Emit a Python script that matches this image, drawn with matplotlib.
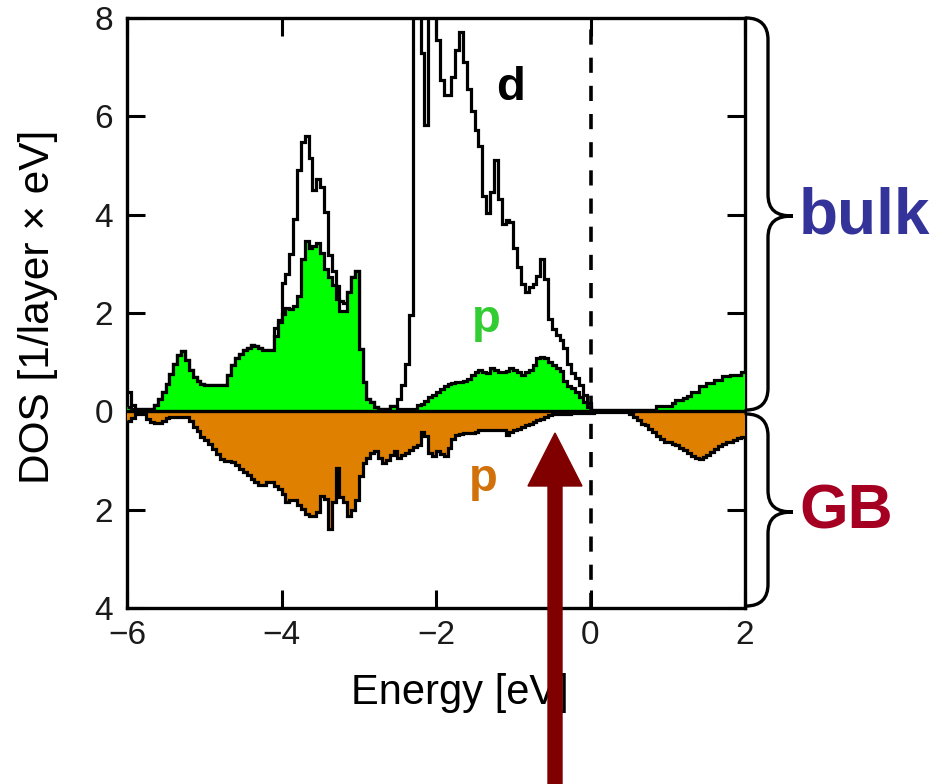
import numpy as np
import matplotlib
matplotlib.use("Agg")
import matplotlib.pyplot as plt
from matplotlib.path import Path
from matplotlib.patches import PathPatch, FancyArrow

plt.rcParams['font.family'] = ['Liberation Sans', 'DejaVu Sans']

# Energy grid (eV): histogram bins of 0.05 eV from -6 to 2
energy_min, energy_max, energy_step = -6.0, 2.0, 0.05
edges = np.linspace(energy_min, energy_max, int(round((energy_max - energy_min) / energy_step)) + 1)

# Bulk d-projected DOS (values above 8 run off the top of the frame)
dos_d_bulk = [
    0.40, 0.12, 0.05, 0.05, 0.05, 0.05, 0.05, 0.12, 0.25, 0.39,
    0.56, 0.76, 0.97, 1.15, 1.22, 1.04, 0.84, 0.70, 0.61, 0.56,
    0.53, 0.53, 0.53, 0.53, 0.53, 0.53, 0.74, 0.94, 1.09, 1.17,
    1.24, 1.28, 1.34, 1.33, 1.28, 1.24, 1.24, 1.24, 1.70, 1.85,
    2.62, 2.80, 3.20, 3.91, 4.90, 5.47, 5.60, 5.16, 4.50, 4.73,
    4.56, 4.05, 3.17, 2.85, 2.55, 2.25, 2.20, 2.42, 2.73, 2.86,
    1.27, 0.59, 0.25, 0.19, 0.09, 0.04, 0.04, 0.04, 0.11, 0.11,
    0.25, 0.53, 0.97, 1.95, 10.0, 10.0, 7.28, 5.83, 10.0, 10.0,
    7.55, 6.74, 6.44, 6.44, 6.81, 7.35, 7.72, 7.11, 6.55, 6.10,
    5.73, 5.39, 4.38, 4.04, 4.46, 5.12, 4.31, 3.81, 3.90, 3.85,
    3.33, 2.93, 2.59, 2.42, 2.52, 2.59, 2.76, 3.10, 2.70, 1.88,
    1.68, 1.55, 1.45, 1.28, 0.97, 0.77, 0.67, 0.53, 0.33, 0.16,
    0.03, 0.03, 0.03, 0.03, 0.03, 0.03, 0.03, 0.03, 0.03, 0.03,
    0.03, 0.03, 0.03, 0.03, 0.03, 0.03, 0.03, 0.03, 0.03, 0.03,
    0.03, 0.03, 0.03, 0.03, 0.03, 0.03, 0.03, 0.03, 0.03, 0.03,
    0.03, 0.03, 0.03, 0.03, 0.03, 0.03, 0.03, 0.03, 0.03, 0.03,
]

# Bulk p-projected DOS
dos_p_bulk = [
    0.08, 0.05, 0.05, 0.05, 0.05, 0.05, 0.05, 0.12, 0.25, 0.39,
    0.56, 0.76, 0.97, 1.15, 1.22, 1.04, 0.84, 0.70, 0.61, 0.56,
    0.53, 0.53, 0.53, 0.53, 0.53, 0.53, 0.74, 0.94, 1.09, 1.17,
    1.24, 1.28, 1.34, 1.33, 1.28, 1.24, 1.24, 1.24, 1.54, 1.81,
    1.98, 2.11, 2.08, 2.15, 2.35, 3.10, 3.47, 3.33, 3.37, 3.42,
    3.23, 2.90, 2.73, 2.56, 2.29, 2.05, 2.05, 2.42, 2.73, 2.86,
    1.27, 0.59, 0.25, 0.19, 0.09, 0.04, 0.04, 0.04, 0.11, 0.11,
    0.04, 0.04, 0.04, 0.04, 0.04, 0.12, 0.15, 0.22, 0.29, 0.33,
    0.40, 0.46, 0.51, 0.55, 0.57, 0.59, 0.59, 0.62, 0.66, 0.73,
    0.80, 0.84, 0.80, 0.78, 0.88, 0.84, 0.80, 0.80, 0.82, 0.89,
    0.84, 0.80, 0.74, 0.80, 0.84, 0.95, 1.08, 1.10, 1.08, 1.00,
    0.94, 0.89, 0.83, 0.62, 0.52, 0.47, 0.40, 0.30, 0.20, 0.08,
    0.03, 0.03, 0.03, 0.03, 0.03, 0.03, 0.03, 0.03, 0.03, 0.03,
    0.03, 0.03, 0.03, 0.03, 0.03, 0.03, 0.03, 0.11, 0.11, 0.11,
    0.11, 0.17, 0.23, 0.23, 0.27, 0.32, 0.40, 0.40, 0.51, 0.51,
    0.57, 0.57, 0.63, 0.63, 0.71, 0.71, 0.73, 0.73, 0.73, 0.79,
]

# Grain-boundary p-projected DOS (plotted downwards)
dos_p_gb = [
    0.19, 0.14, 0.05, 0.05, 0.05, 0.15, 0.22, 0.24, 0.24, 0.19,
    0.14, 0.12, 0.12, 0.12, 0.12, 0.12, 0.19, 0.32, 0.39, 0.53,
    0.59, 0.66, 0.76, 0.86, 0.97, 1.00, 1.00, 1.03, 1.10, 1.17,
    1.24, 1.30, 1.37, 1.44, 1.49, 1.49, 1.44, 1.44, 1.52, 1.57,
    1.68, 1.85, 1.81, 1.81, 1.91, 1.98, 2.08, 2.13, 2.13, 2.05,
    1.72, 1.78, 2.40, 1.85, 1.15, 1.75, 1.85, 2.12, 2.00, 1.80,
    1.32, 1.05, 0.95, 0.85, 0.81, 0.95, 1.05, 0.98, 0.88, 0.80,
    0.95, 0.88, 0.84, 0.78, 0.72, 0.69, 0.42, 0.50, 0.84, 0.90,
    0.80, 0.86, 0.90, 0.75, 0.56, 0.49, 0.47, 0.45, 0.45, 0.45,
    0.42, 0.38, 0.38, 0.38, 0.38, 0.38, 0.38, 0.38, 0.49, 0.42,
    0.38, 0.35, 0.32, 0.28, 0.25, 0.22, 0.18, 0.15, 0.12, 0.08,
    0.05, 0.05, 0.05, 0.05, 0.05, 0.03, 0.03, 0.03, 0.03, 0.03,
    0.03, 0.01, 0.01, 0.01, 0.01, 0.01, 0.01, 0.01, 0.01, 0.01,
    0.05, 0.12, 0.18, 0.25, 0.28, 0.35, 0.42, 0.50, 0.56, 0.62,
    0.62, 0.66, 0.69, 0.74, 0.79, 0.84, 0.90, 0.95, 0.97, 0.93,
    0.88, 0.82, 0.76, 0.70, 0.66, 0.63, 0.62, 0.59, 0.55, 0.52,
]

x_ticks = [-6, -4, -2, 0, 2]
y_ticks = [8, 6, 4, 2, 0, -2, -4]
y_tick_labels = ['8', '6', '4', '2', '0', '2', '4']

W, H = 943, 784
fig = plt.figure(figsize=(W / 100, H / 100), dpi=100)
ax = fig.add_axes([127 / W, 1 - 608 / H, (745 - 127) / W, (608 - 18) / H])
ax.set_xlim(-6, 2)
ax.set_ylim(-4, 8)

d = np.array(dos_d_bulk)
pb = np.array(dos_p_bulk)
pg = -np.array(dos_p_gb)

lw = 2.3
ax.stairs(d, edges, baseline=None, color='black', lw=lw, zorder=2)
ax.stairs(pb, edges, baseline=0, fill=True, color='#00ff00', lw=0, zorder=3)
ax.stairs(pb, edges, baseline=None, color='black', lw=lw, zorder=3.5)
ax.stairs(pg, edges, baseline=0, fill=True, color='#e08000', lw=0, zorder=3)
ax.stairs(pg, edges, baseline=None, color='black', lw=lw, zorder=3.5)
ax.axhline(0, color='black', lw=2.4, zorder=4)
ax.axvline(0, color='black', lw=2.6, ls=(0, (4.2, 3.6)), zorder=6)

for s in ax.spines.values():
    s.set_linewidth(2.4)
ax.set_xticks(x_ticks)
ax.set_yticks(y_ticks)
ax.set_yticklabels(y_tick_labels)
ax.tick_params(direction='in', length=13, width=2.2, top=True, right=True,
               labelsize=24, labelcolor='#1a1a1a')
ax.tick_params(axis='x', pad=9)
ax.tick_params(axis='y', pad=10)

ax.text(-1.04, 6.58, 'd', fontsize=34, fontweight='bold', color='black',
        ha='center', va='center', zorder=7)
ax.text(-1.35, 1.85, 'p', fontsize=34, fontweight='bold', color='#33cc33',
        ha='center', va='center', zorder=7)
ax.text(-1.39, -1.38, 'p', fontsize=34, fontweight='bold', color='#d2700a',
        ha='center', va='center', zorder=7)

fig.text(460 / W, 1 - 693 / H, 'Energy [eV]', fontsize=30, ha='center', va='center')
fig.text(38 / W, 1 - 307 / H, 'DOS [1/layer \u00d7 eV]', fontsize=30.5,
         rotation=90, ha='center', va='center')


def brace(y_top, y_bot, y_tip, x0=746, x1=768, x_tip=793, r=22):
    pts = [(x0, y_top), (x0 + 15, y_top), (x1, y_top + 8), (x1, y_top + r),
           (x1, y_tip - r),
           (x1, y_tip - 6), (x1 + 8, y_tip), (x_tip, y_tip),
           (x1 + 8, y_tip), (x1, y_tip + 6), (x1, y_tip + r),
           (x1, y_bot - r),
           (x1, y_bot - 8), (x0 + 15, y_bot), (x0, y_bot)]
    codes = [Path.MOVETO, Path.CURVE4, Path.CURVE4, Path.CURVE4,
             Path.LINETO,
             Path.CURVE4, Path.CURVE4, Path.CURVE4,
             Path.CURVE4, Path.CURVE4, Path.CURVE4,
             Path.LINETO,
             Path.CURVE4, Path.CURVE4, Path.CURVE4]
    verts = [(x / W, 1 - y / H) for x, y in pts]
    fig.patches.append(PathPatch(Path(verts, codes), transform=fig.transFigure,
                                 fill=False, lw=2.4, color='black', capstyle='round'))


brace(18, 410, 216)
brace(414, 606, 512)

fig.text(799 / W, 1 - 217 / H, 'bulk', fontsize=46, fontweight='bold',
         color='#333399', ha='left', va='center')
fig.text(799 / W, 1 - 512 / H, 'GB', fontsize=45, fontweight='bold',
         color='#a50021', ha='left', va='center')

arrow = FancyArrow(555 / W, 0.0, 0.0, (784 - 433) / H, width=14 / W,
                   head_width=54 / W, head_length=53 / H,
                   length_includes_head=True, transform=fig.transFigure,
                   color='#800000', zorder=10)
fig.patches.append(arrow)

fig.savefig('out.png', dpi=100)
